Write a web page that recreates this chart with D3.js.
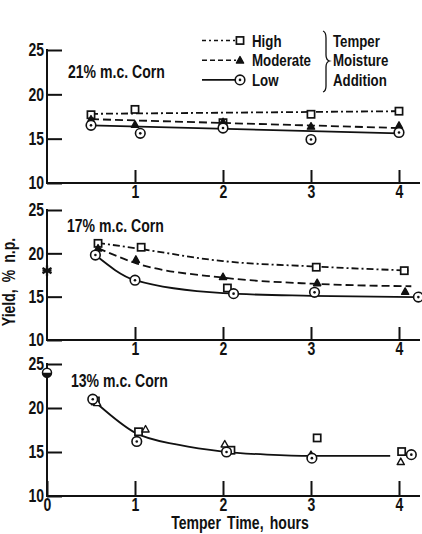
<!DOCTYPE html>
<html>
<head>
<meta charset="utf-8">
<script src="https://cdn.jsdelivr.net/npm/d3@7"></script>
<style>
  body { margin: 0; background: #fff; }
  text { font-family: "Liberation Sans", Arial, sans-serif; font-weight: bold; fill: #111; }
</style>
</head>
<body>
<svg id="chart" width="422" height="534"></svg>
<script>
// ---- axis ticks ----
const yTicks = [10, 15, 20, 25];
const xTicksUpper = [1, 2, 3, 4];
const xTicksLower = [0, 1, 2, 3, 4];

// ---- 21% m.c. corn: measured yields (x = temper time, h) ----
const high21X = [0.5, 1.0, 2.0, 3.0, 4.0];
const high21Y = [17.7, 18.3, 16.8, 17.75, 18.1];
const mod21X  = [0.5, 1.0, 2.0, 3.0, 4.0];
const mod21Y  = [17.2, 16.6, 16.9, 16.4, 16.5];
const low21X  = [0.5, 1.06, 2.0, 3.0, 4.0];
const low21Y  = [16.5, 15.6, 16.2, 14.9, 15.7];
// fitted trend lines
const high21FitX = [0.5, 4.0],  high21FitY = [17.8, 18.1];
const mod21FitX  = [0.5, 4.0],  mod21FitY  = [17.2, 16.2];
const low21FitX  = [0.5, 4.0],  low21FitY  = [16.5, 15.6];

// ---- 17% m.c. corn ----
const high17X = [0.58, 1.07, 2.05, 3.06, 4.06];
const high17Y = [21.15, 20.7, 16.0, 18.4, 18.0];
const mod17X  = [0.58, 1.01, 2.0, 3.07, 4.07];
const mod17Y  = [20.6, 19.3, 17.3, 16.6, 15.6];
const low17X  = [0.55, 1.0, 2.12, 3.04, 4.22];
const low17Y  = [19.8, 16.9, 15.35, 15.5, 14.95];
const high17FitX = [0.58, 1.0, 2.0, 3.0, 4.14], high17FitY = [21.2, 20.6, 19.1, 18.5, 18.0];
const mod17FitX  = [0.58, 1.0, 2.0, 3.0, 4.14], mod17FitY  = [20.6, 18.9, 17.2, 16.5, 16.2];
const low17FitX  = [0.55, 1.0, 2.0, 3.0, 4.2],  low17FitY  = [19.8, 16.9, 15.4, 15.1, 14.95];
const start17X = 0, start17Y = 18.0;   // untempered reference (asterisk)

// ---- 13% m.c. corn ----
const high13X = [0.55, 1.04, 2.09, 3.07, 4.03];
const high13Y = [20.8, 17.3, 15.2, 16.6, 15.05];
const mod13X  = [0.57, 1.12, 2.02, 3.0, 4.02];
const mod13Y  = [20.6, 17.6, 15.9, 14.7, 13.9];
const low13X  = [0.52, 1.02, 2.04, 3.01, 4.14];
const low13Y  = [21.0, 16.2, 15.0, 14.3, 14.7];
const all13FitX = [0.58, 1.0, 1.5, 2.0, 2.5, 3.0, 3.9];
const all13FitY = [20.4, 17.2, 15.8, 15.05, 14.7, 14.55, 14.55];
const start13X = 0, start13Y = 24.0;   // untempered reference (half-filled circle)

// ---- legend ----
const levelNames = ["High", "Moderate", "Low"];
const braceWords = ["Temper", "Moisture", "Addition"];
const panelTitles = ["21% m.c. Corn", "17% m.c. Corn", "13% m.c. Corn"];

const zip = (xs, ys) => xs.map((v, i) => [v, ys[i]]);

const panels = [
  { title: panelTitles[0], top: 50, bottom: 183, xTicks: xTicksUpper, tickLen: 13, titlePos: [68, 78], openTri: false,
    points: { high: zip(high21X, high21Y), mod: zip(mod21X, mod21Y), low: zip(low21X, low21Y) },
    fits: [ { level: "high", pts: zip(high21FitX, high21FitY) },
            { level: "mod",  pts: zip(mod21FitX, mod21FitY) },
            { level: "low",  pts: zip(low21FitX, low21FitY) } ] },
  { title: panelTitles[1], top: 210, bottom: 340, xTicks: xTicksUpper, tickLen: 13, titlePos: [67, 232], openTri: false,
    points: { high: zip(high17X, high17Y), mod: zip(mod17X, mod17Y), low: zip(low17X, low17Y) },
    fits: [ { level: "high", pts: zip(high17FitX, high17FitY) },
            { level: "mod",  pts: zip(mod17FitX, mod17FitY) },
            { level: "low",  pts: zip(low17FitX, low17FitY) } ],
    start: { kind: "asterisk", x: start17X, y: start17Y } },
  { title: panelTitles[2], top: 364, bottom: 496, xTicks: xTicksLower, tickLen: 15, titlePos: [71, 387], openTri: true,
    points: { high: zip(high13X, high13Y), mod: zip(mod13X, mod13Y), low: zip(low13X, low13Y) },
    fits: [ { level: "low", pts: zip(all13FitX, all13FitY) } ],
    start: { kind: "halfCircle", x: start13X, y: start13Y } }
];

const dashFor = { high: "7,3,2,3", mod: "8,4", low: null };

const svg = d3.select("#chart");
svg.append("rect").attr("width", 422).attr("height", 534).attr("fill", "#fff");

const x = d3.scaleLinear().domain([0, 4]).range([47, 399]);
const xEnd = 420;

// marker drawing helpers
function drawMarker(g, level, px, py, openTri) {
  if (level === "high") {
    g.append("rect").attr("x", px - 3.6).attr("y", py - 3.6).attr("width", 7.2).attr("height", 7.2)
      .attr("fill", "#fff").attr("stroke", "#111").attr("stroke-width", 1.7);
  } else if (level === "mod") {
    const s = 3.6;
    g.append("path")
      .attr("d", `M${px},${py - s}L${px + s},${py + s * 0.8}L${px - s},${py + s * 0.8}Z`)
      .attr("fill", openTri ? "#fff" : "#111").attr("stroke", "#111").attr("stroke-width", 1.4)
      .attr("stroke-linejoin", "round");
  } else {
    g.append("circle").attr("cx", px).attr("cy", py).attr("r", 4.8)
      .attr("fill", "#fff").attr("stroke", "#111").attr("stroke-width", 1.6);
    g.append("circle").attr("cx", px).attr("cy", py).attr("r", 1.3).attr("fill", "#111");
  }
}

panels.forEach(p => {
  const y = d3.scaleLinear().domain([10, 25]).range([p.bottom, p.top]);
  const g = svg.append("g");

  // y axis with inward ticks
  const yAxis = d3.axisLeft(y).tickValues(yTicks).tickSizeInner(-15).tickSizeOuter(0).tickPadding(3)
    .tickFormat(d3.format("d"));
  const ya = g.append("g").attr("transform", `translate(${x(0)},0)`).call(yAxis);
  ya.select(".domain").remove();
  ya.selectAll("line").attr("stroke", "#111").attr("stroke-width", 2);
  ya.selectAll("text").style("font-size", "18px").attr("fill", "#111");

  // x axis with upward ticks
  const xAxis = d3.axisBottom(x).tickValues(p.xTicks).tickSizeInner(-p.tickLen).tickSizeOuter(0).tickPadding(2)
    .tickFormat(d3.format("d"));
  const xa = g.append("g").attr("transform", `translate(0,${y(10)})`).call(xAxis);
  xa.select(".domain").remove();
  xa.selectAll("line").attr("stroke", "#111").attr("stroke-width", 2);
  xa.selectAll("text").style("font-size", "18px").attr("fill", "#111");

  // axis lines
  g.append("line").attr("x1", x(0)).attr("x2", xEnd).attr("y1", y(10)).attr("y2", y(10))
    .attr("stroke", "#111").attr("stroke-width", 2);
  g.append("line").attr("x1", x(0)).attr("x2", x(0)).attr("y1", y(25) - 1).attr("y2", y(10) + 1)
    .attr("stroke", "#111").attr("stroke-width", 2);

  // panel title
  g.append("text").attr("x", p.titlePos[0]).attr("y", p.titlePos[1]).style("font-size", "18px").text(p.title);

  // trend lines
  const line = d3.line().x(d => x(d[0])).y(d => y(d[1])).curve(d3.curveMonotoneX);
  p.fits.forEach(f => {
    g.append("path").attr("d", line(f.pts)).attr("fill", "none").attr("stroke", "#111")
      .attr("stroke-width", 1.8).attr("stroke-dasharray", dashFor[f.level]);
  });

  // measured points
  ["high", "mod", "low"].forEach(level => {
    p.points[level].forEach(d => drawMarker(g, level, x(d[0]), y(d[1]), p.openTri));
  });

  // untempered reference point on the y axis
  if (p.start) {
    const sx = x(p.start.x), sy = y(p.start.y);
    if (p.start.kind === "asterisk") {
      const r = 5.2;
      [0, 60, 120].forEach(a => {
        const t = (a + 90) * Math.PI / 180;
        g.append("line").attr("x1", sx - r * Math.cos(t)).attr("y1", sy - r * Math.sin(t))
          .attr("x2", sx + r * Math.cos(t)).attr("y2", sy + r * Math.sin(t))
          .attr("stroke", "#111").attr("stroke-width", 2.3);
      });
      g.append("line").attr("x1", sx - 4.5).attr("x2", sx + 4.5).attr("y1", sy).attr("y2", sy)
        .attr("stroke", "#111").attr("stroke-width", 1.8);
    } else {
      const r = 4.5;
      g.append("circle").attr("cx", sx).attr("cy", sy).attr("r", r).attr("fill", "#fff")
        .attr("stroke", "#111").attr("stroke-width", 1.5);
      g.append("path").attr("d", `M${sx - r},${sy}A${r},${r} 0 0 0 ${sx + r},${sy}Z`).attr("fill", "#111");
    }
  }
});

// legend
const legend = svg.append("g");
levelNames.forEach((name, i) => {
  const level = ["high", "mod", "low"][i];
  const ly = 40.5 + i * 19.7;
  legend.append("line").attr("x1", 202).attr("x2", 236).attr("y1", ly).attr("y2", ly)
    .attr("stroke", "#111").attr("stroke-width", 1.6).attr("stroke-dasharray", level === "high" ? "4,3,2,3" : (level === "mod" ? "5,3" : null));
  drawMarker(legend, level, 240, ly, false);
  legend.append("text").attr("x", 252).attr("y", ly + 6).style("font-size", "17px").text(name);
});
legend.append("path")
  .attr("d", "M323,31 Q326,32 326,38 L326,55 Q326,60 329.5,61 Q326,62 326,67 L326,86 Q326,91 323,92")
  .attr("fill", "none").attr("stroke", "#111").attr("stroke-width", 1.3);
braceWords.forEach((w, i) => {
  legend.append("text").attr("x", 333).attr("y", 46.5 + i * 19.5).style("font-size", "17px").text(w);
});

// axis titles
svg.append("text").attr("x", 240).attr("y", 529).attr("text-anchor", "middle").style("font-size", "18px")
  .style("word-spacing", "3px").text("Temper Time, hours");
svg.append("text").attr("transform", "translate(15,282) rotate(-90)").attr("text-anchor", "middle")
  .style("font-size", "18px").style("word-spacing", "4px").text("Yield, % n.p.");

// condensed lettering: squeeze every label horizontally
svg.selectAll("text").each(function () {
  const w = this.getComputedTextLength();
  this.setAttribute("textLength", (w * 0.78).toFixed(1));
  this.setAttribute("lengthAdjust", "spacingAndGlyphs");
});
</script>
</body>
</html>
